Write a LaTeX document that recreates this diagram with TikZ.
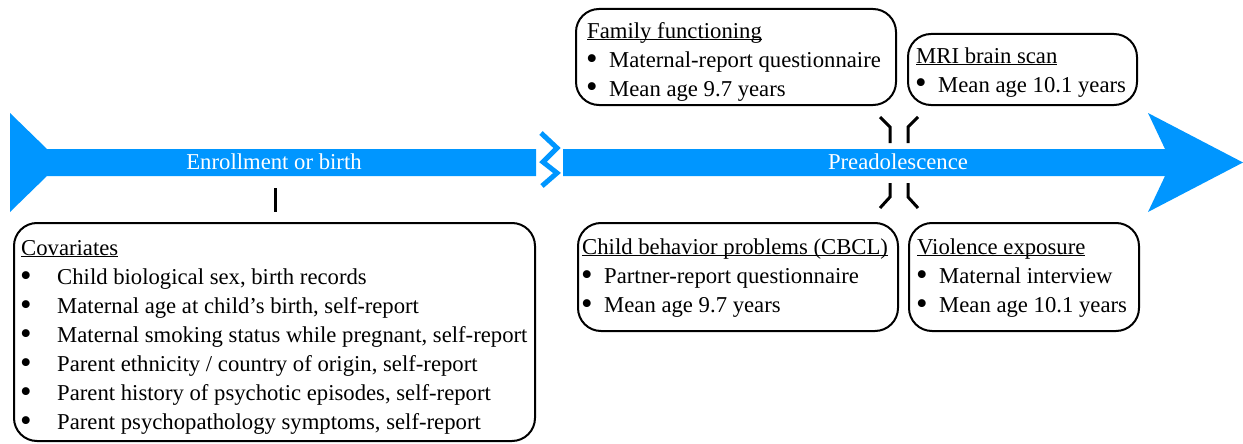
\documentclass[tikz,border=0pt]{standalone}
\usepackage{fontspec}
\usepackage{graphicx}
\setmainfont{Liberation Serif}
\usetikzlibrary{positioning}

\definecolor{timeblue}{RGB}{0,150,255}
\newcommand\bodyfont{\fontsize{22.7}{29}\selectfont}
\newcommand\boxtitle[1]{\rule{0pt}{16pt}\underline{\smash{#1}}}
\newcommand\bigdot{\raisebox{-1.8pt}{\scalebox{1.45}{\textbullet}}}
\newcommand\bul[2][22pt]{\makebox[#1][l]{\hspace{-1pt}\bigdot}#2}

\tikzset{
  infobox/.style={draw, line width=2pt, rounded corners=23pt, anchor=north west, inner sep=0pt},
  boxtext/.style={anchor=north west, align=left, inner sep=0pt, font=\bodyfont},
  phase/.style={text=white, inner sep=0pt, font=\bodyfont},
  tickline/.style={line width=3pt},
}

\begin{document}
\begin{tikzpicture}[x=1pt,y=-1pt]
  \useasboundingbox (0,0) rectangle (1243,444);

  % Timeline arrow
  \fill[timeblue] (10,113) -- (47,149) -- (536,149) -- (536,176) -- (47,176) -- (10,212) -- cycle;
  \fill[timeblue] (563,149) -- (1165,149) -- (1148,113) -- (1243,162.5) -- (1148,212) -- (1165,176) -- (563,176) -- cycle;
  \draw[timeblue, line width=5pt] (541,133) -- (557,148) -- (543,162) -- (557,173) -- (542,186);

  \node[phase] (enroll) at (274,162) {Enrollment or birth};
  \node[phase] (preado) at (898,162) {Preadolescence};

  % Ticks and brackets
  \draw[tickline] (275,188) -- (275,212);
  \draw[tickline] (880,117) -- (890,127) -- (890,143);
  \draw[tickline] (918,117) -- (908,127) -- (908,143);
  \draw[tickline] (890,183) -- (890,197) -- (880,208);
  \draw[tickline] (908,183) -- (908,197) -- (918,208);

  % Boxes
  \node[infobox, minimum width=521, minimum height=218] (covar) at (13,222) {};
  \node[infobox, minimum width=320, minimum height=96] (family) at (575,8) {};
  \node[infobox, minimum width=229, minimum height=71] (mri) at (907,33) {};
  \node[infobox, minimum width=320, minimum height=108] (cbcl) at (577,222) {};
  \node[infobox, minimum width=230, minimum height=108] (violence) at (908,222) {};

  % Box texts
  \node[boxtext] (covartext) at ([shift={(8,17)}]covar.north west) {%
    \boxtitle{Covariates}\\
    \bul[36pt]{Child biological sex, birth records}\\
    \bul[36pt]{Maternal age at child’s birth, self-report}\\
    \bul[36pt]{Maternal smoking status while pregnant, self-report}\\
    \bul[36pt]{Parent ethnicity / country of origin, self-report}\\
    \bul[36pt]{Parent history of psychotic episodes, self-report}\\
    \bul[36pt]{Parent psychopathology symptoms, self-report}};
  \node[boxtext] (familytext) at ([shift={(12,14)}]family.north west) {%
    \boxtitle{Family functioning}\\
    \bul{Maternal-report questionnaire}\\
    \bul{Mean age 9.7 years}};
  \node[boxtext] (mritext) at ([shift={(9,14)}]mri.north west) {%
    \boxtitle{MRI brain scan}\\
    \bul{Mean age 10.1 years}};
  \node[boxtext] (cbcltext) at ([shift={(5,16)}]cbcl.north west) {%
    \boxtitle{Child behavior problems (CBCL)}\\
    \bul{Partner-report questionnaire}\\
    \bul{Mean age 9.7 years}};
  \node[boxtext] (violencetext) at ([shift={(9,16)}]violence.north west) {%
    \boxtitle{Violence exposure}\\
    \bul{Maternal interview}\\
    \bul{Mean age 10.1 years}};
\end{tikzpicture}
\end{document}
